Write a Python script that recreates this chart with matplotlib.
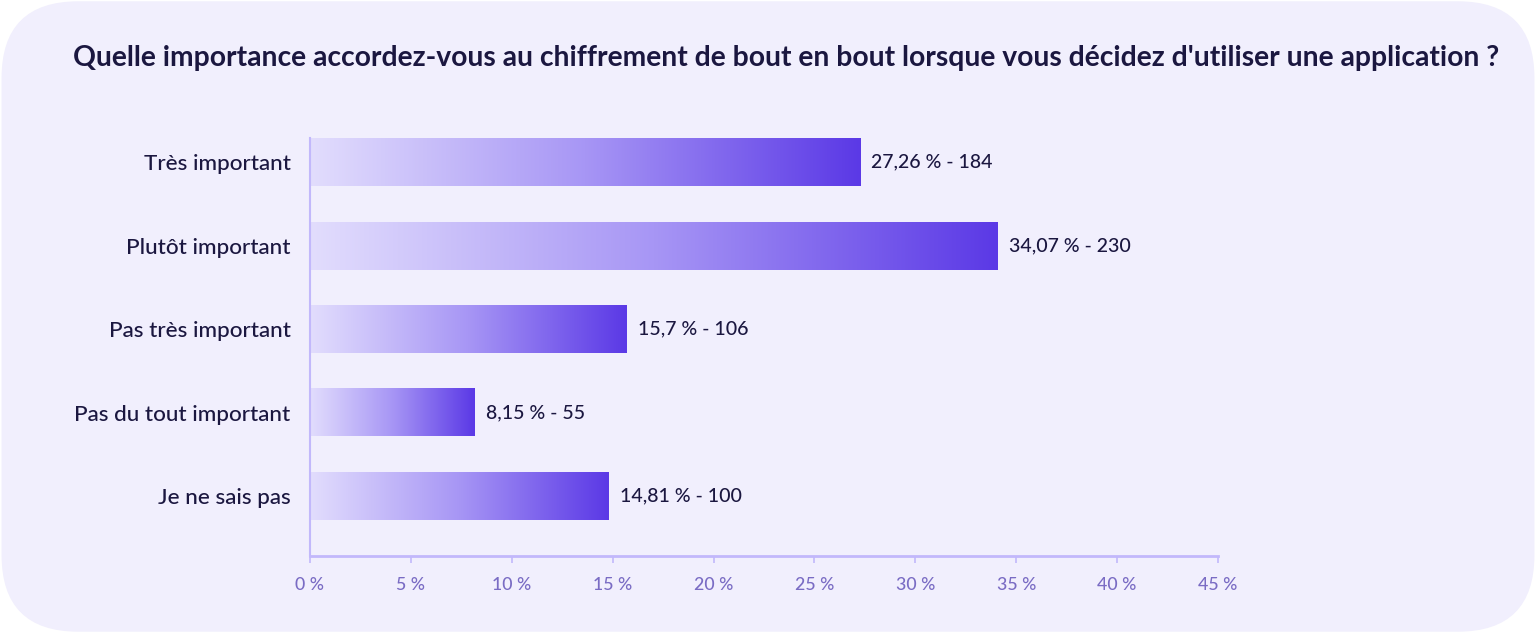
import numpy as np
import matplotlib
matplotlib.use("Agg")
import matplotlib.pyplot as plt
from matplotlib.colors import LinearSegmentedColormap
from matplotlib.patches import FancyBboxPatch

# --- data ---
categories = ["Très important", "Plutôt important", "Pas très important",
              "Pas du tout important", "Je ne sais pas"]
percents = [27.26, 34.07, 15.7, 8.15, 14.81]
counts = [184, 230, 106, 55, 100]
value_labels = ["27,26 % - 184", "34,07 % - 230", "15,7 % - 106",
                "8,15 % - 55", "14,81 % - 100"]
x_ticks = [0, 5, 10, 15, 20, 25, 30, 35, 40, 45]
x_tick_labels = [f"{t} %" for t in x_ticks]
title = "Quelle importance accordez-vous au chiffrement de bout en bout lorsque vous décidez d'utiliser une application ?"

plt.rcParams['font.family'] = ['Lato', 'DejaVu Sans']

bg = "#F1EFFD"
navy = "#1B1740"
axis_col = "#C2B8FB"
tick_text = "#7A6CC4"
grad = LinearSegmentedColormap.from_list("bar", ["#E2DDFD", "#A796F5", "#5B39E6"])

fig = plt.figure(figsize=(15.36, 6.33), dpi=100, facecolor="white")

# rounded card behind everything
card = FancyBboxPatch((0.001, 0.002), 0.998, 0.996,
                      boxstyle="round,pad=0,rounding_size=0.05",
                      transform=fig.transFigure, facecolor=bg, edgecolor="none",
                      mutation_aspect=1536 / 633, zorder=-5)
fig.patches.append(card)

fig.text(0.512, 0.908, title, ha="center", va="center", fontsize=20.3,
         fontweight="bold", color=navy)

ax = fig.add_axes([0.2018, 0.1216, 0.5912, 0.6604])
ax.set_facecolor("none")
ax.set_zorder(2)

bar_h = 0.575
y_pos = np.arange(len(categories))
grad_img = np.linspace(0, 1, 256).reshape(1, -1)
for y, p, lab in zip(y_pos, percents, value_labels):
    ax.imshow(grad_img, cmap=grad, aspect="auto", interpolation="bicubic",
              extent=[0, p, y + bar_h / 2, y - bar_h / 2], zorder=2)
    ax.annotate(lab, xy=(p, y), xytext=(8, 0), textcoords="offset points",
                ha="left", va="center", fontsize=14, fontweight="medium",
                color=navy)

ax.set_xlim(0, 45)
ax.set_ylim(4.72, -0.29)
ax.set_yticks(y_pos)
ax.set_yticklabels(categories, fontsize=16.2, fontweight="medium", color=navy)
ax.tick_params(axis="y", length=0, pad=14)
ax.set_xticks(x_ticks)
ax.set_xticklabels(x_tick_labels, fontsize=12.8, fontweight="medium", color=tick_text)
ax.tick_params(axis="x", length=5, width=1.2, color=axis_col, pad=10)

for side in ["top", "right"]:
    ax.spines[side].set_visible(False)
ax.spines["left"].set_color(axis_col)
ax.spines["bottom"].set_color(axis_col)
ax.spines["left"].set_linewidth(1.5)
ax.spines["bottom"].set_linewidth(2)

fig.savefig("out.png", dpi=100, facecolor="white")
